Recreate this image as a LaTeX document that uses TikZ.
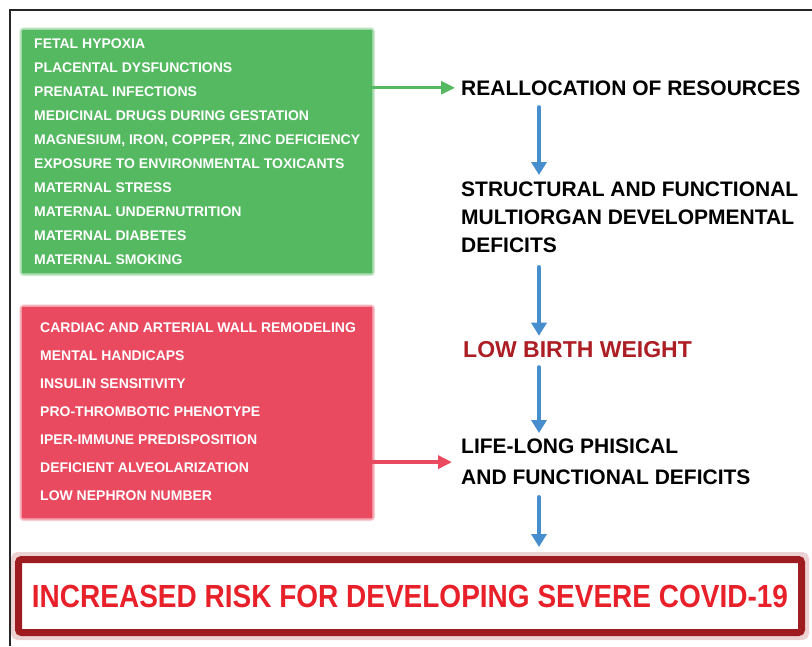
\documentclass[tikz,border=0pt]{standalone}
\usepackage{fontspec}
\setmainfont{Liberation Sans}
\usetikzlibrary{arrows.meta,positioning}

\definecolor{leafgreen}{RGB}{84,185,96}
\definecolor{rosered}{RGB}{234,74,96}
\definecolor{flowblue}{RGB}{70,142,206}
\definecolor{bloodred}{RGB}{172,30,36}
\definecolor{alarmred}{RGB}{232,32,42}
\definecolor{wine}{RGB}{158,28,32}

\tikzset{
  listbox/.style={minimum width=350pt, minimum height=#1, inner sep=0pt,
    anchor=north west},
  listtext/.style={text=white, align=left, inner sep=0pt, anchor=north west,
    font=\bfseries\fontsize{14}{#1}\selectfont},
  stage/.style={align=left, inner sep=0pt, font=\bfseries\fontsize{21}{28}\selectfont},
  flow/.style={draw=flowblue, line width=4.5pt, line cap=round,
    -{Triangle[width=15pt,length=13pt]}},
}

\begin{document}
\begin{tikzpicture}[x=1pt,y=-1pt]
\useasboundingbox (0,0) rectangle (812,646);

% frame
\draw[line width=1.6pt, black!85] (812,10) -- (10,10) -- (10,646);

% causes
\node[listbox=243pt, fill=leafgreen] (causes) at (22,30) {};
\foreach \w in {1,2.5,4,5.5}
  \draw[leafgreen, opacity=0.22, line width=\w pt, rounded corners=2pt]
    (causes.north west) rectangle (causes.south east);
\node[listtext=23.9pt] (causelist) at (34,39) {FETAL HYPOXIA\\
PLACENTAL DYSFUNCTIONS\\
PRENATAL INFECTIONS\\
MEDICINAL DRUGS DURING GESTATION\\
MAGNESIUM, IRON, COPPER, ZINC DEFICIENCY\\
EXPOSURE TO ENVIRONMENTAL TOXICANTS\\
MATERNAL STRESS\\
MATERNAL UNDERNUTRITION\\
MATERNAL DIABETES\\
MATERNAL SMOKING};

% consequences
\node[listbox=211pt, fill=rosered] (effects) at (22,307) {};
\foreach \w in {1,2.5,4,5.5}
  \draw[rosered, opacity=0.22, line width=\w pt, rounded corners=2pt]
    (effects.north west) rectangle (effects.south east);
\node[listtext=28pt] (effectlist) at (40,323) {CARDIAC AND ARTERIAL WALL REMODELING\\
MENTAL HANDICAPS\\
INSULIN SENSITIVITY\\
PRO-THROMBOTIC PHENOTYPE\\
IPER-IMMUNE PREDISPOSITION\\
DEFICIENT ALVEOLARIZATION\\
LOW NEPHRON NUMBER};

% chain
\node[stage, anchor=base west] (realloc) at (461,95) {REALLOCATION OF RESOURCES};
\node[stage, anchor=north west] (deficits) at (461,182) {STRUCTURAL AND FUNCTIONAL\\
MULTIORGAN DEVELOPMENTAL\\
DEFICITS};
\node[stage, anchor=base west, text=bloodred, font=\bfseries\fontsize{23}{28}\selectfont] (lbw) at (463,357) {LOW BIRTH WEIGHT};
\node[stage, anchor=north west, font=\bfseries\fontsize{21}{31}\selectfont] (lifelong) at (461,439) {LIFE-LONG PHISICAL\\
AND FUNCTIONAL DEFICITS};

\node[minimum width=783pt, minimum height=73pt, line width=7pt, draw=wine,
  rounded corners=3pt, text=alarmred,
  font=\bfseries\fontsize{32}{32}\selectfont] (risk) at (410,596)
  {\scalebox{0.875}[1]{INCREASED RISK FOR DEVELOPING SEVERE COVID-19}};
\draw[wine, opacity=0.2, line width=8pt, rounded corners=3pt]
  (risk.north west) rectangle (risk.south east);

\coordinate (axis) at (539,0);

\draw[draw=leafgreen, line width=3pt, -{Triangle[width=13pt,length=14pt]}, shorten >=6pt]
  (causes.east |- realloc.west) -- (realloc.west);
\draw[draw=rosered, line width=4pt, -{Triangle[width=13pt,length=14pt]}, shorten >=9pt]
  (effects.east |- lifelong.west) -- (lifelong.west);

\draw[flow, shorten <=12pt, shorten >=7pt] (realloc.south -| axis) -- (deficits.north -| axis);
\draw[flow, shorten <=14pt, shorten >=5pt] (deficits.south -| axis) -- (lbw.north -| axis);
\draw[flow, shorten <=10pt, shorten >=6pt] (lbw.south -| axis) -- (lifelong.north -| axis);
\draw[flow, shorten <=12pt, shorten >=9pt] (lifelong.south -| axis) -- (risk.north -| axis);
\end{tikzpicture}
\end{document}
